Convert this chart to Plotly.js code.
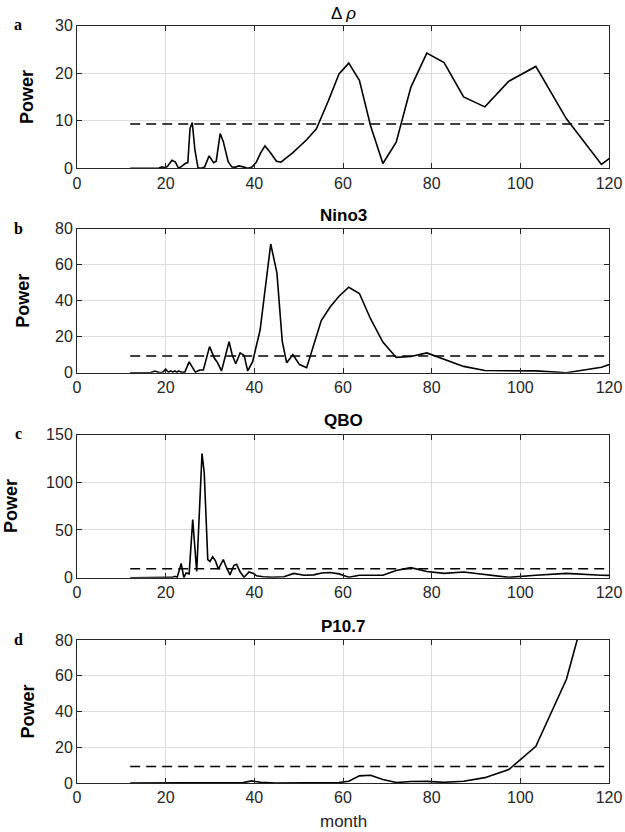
<!DOCTYPE html>
<html>
<head>
<meta charset="utf-8">
<script src="https://cdn.plot.ly/plotly-3.0.1.min.js"></script>
<style>
  html, body { margin: 0; padding: 0; background: #fff; }
  #chart { width: 625px; height: 832px; }
</style>
</head>
<body>
<div id="chart"></div>
<script>
// ---- data ----
const rhoMonth = [12, 16, 17.5, 18.5, 19.2, 19.8, 20.4, 21.4, 22.2, 22.9, 23.6, 24.4, 25.0, 25.5, 26.0, 26.6, 27.3, 28.0, 28.8, 29.8, 30.8, 31.4, 32.3, 33.0, 34.1, 34.9, 35.6, 36.5, 37.5, 38.5, 39.4, 40.4, 41.4, 42.4, 43.6, 45.0, 46.0, 48.7, 51.8, 54.0, 56.7, 59.1, 61.3, 63.7, 66.2, 69.0, 72.0, 75.3, 78.9, 82.8, 87.2, 92.0, 97.4, 103.5, 110.4, 118.3, 127.4];
const rhoPower = [0, 0, 0.1, 0.05, 0.3, 0.1, 0.4, 1.7, 1.3, 0, 0.4, 1.0, 1.2, 8.4, 9.6, 3.8, 0.1, 0, 0.3, 2.6, 1.2, 1.5, 7.3, 5.6, 1.4, 0.3, 0.2, 0.5, 0.3, 0, 0.2, 1.2, 3.2, 4.7, 3.3, 1.5, 1.3, 3.3, 6.0, 8.3, 14.2, 19.8, 22.1, 18.5, 9.0, 1.0, 5.5, 17.0, 24.2, 22.2, 15.0, 12.9, 18.3, 21.4, 10.4, 0.8, 7.2];

const ninoMonth = [12, 16.5, 17.6, 18.5, 19.3, 20.0, 20.6, 21.1, 21.6, 22.1, 22.5, 22.9, 23.5, 24.3, 25.3, 26.7, 27.7, 28.5, 29.9, 31.0, 31.6, 32.6, 34.3, 35.0, 35.8, 36.8, 37.7, 38.5, 39.6, 41.3, 43.7, 45.1, 46.3, 47.3, 48.7, 50.2, 51.8, 53.3, 55.1, 57.1, 59.1, 61.3, 63.7, 66.2, 69.0, 72.0, 75.3, 78.9, 82.8, 87.2, 92.0, 97.4, 103.5, 110.4, 118.3, 127.4];
const ninoPower = [0, 0, 0.9, 0.1, 0.2, 2.0, 0.3, 1.0, 0.3, 1.0, 0.2, 1.0, 0.3, 0.2, 6.0, 0.3, 1.5, 1.5, 14.5, 8.0, 6.0, 1.0, 17.2, 10.0, 5.0, 11.0, 9.6, 1.0, 6.0, 23.7, 71.5, 55.3, 17.4, 5.5, 10.0, 4.5, 2.8, 14.5, 29.0, 36.5, 42.5, 47.5, 44.0, 30.0, 17.0, 8.5, 9.0, 11.0, 7.5, 3.5, 1.2, 1.2, 1.0, 0, 3.0, 11.0];

const qboMonth = [12, 19.9, 21.5, 22.1, 22.6, 23.5, 24.1, 24.6, 25.3, 26.1, 27.0, 28.2, 28.7, 29.5, 30.0, 30.6, 31.2, 31.9, 33.0, 33.5, 34.5, 35.4, 36.0, 36.8, 37.7, 38.8, 39.8, 40.5, 42.0, 44.0, 46.7, 48.9, 51.2, 53.4, 55.2, 57.1, 59.1, 61.3, 63.7, 66.2, 69.0, 72.0, 75.3, 78.9, 82.8, 87.2, 92.0, 97.4, 103.5, 110.4, 118.3, 127.4];
const qboPower = [0, 0.5, 0.3, 1.5, 0.3, 15, 0, 5, 4, 61, 6.5, 130, 110, 19, 17, 22, 18, 9, 19, 13, 3, 13, 14, 6, 0.5, 6, 4.5, 2, 1, 0.5, 1, 4.5, 2.5, 3, 5, 5.5, 4, 0.5, 2.5, 2.5, 2.5, 7.5, 10.5, 6.5, 4.5, 6, 3.5, 0.3, 2.5, 4.5, 2.5, 2];

const f107Month = [12, 20, 28, 30, 32.3, 34.5, 37.5, 39.4, 41.4, 44.8, 50, 55, 59.1, 61.3, 63.7, 66.2, 69.0, 72.0, 75.3, 78.9, 82.8, 87.2, 92.0, 97.4, 103.5, 110.4, 118.3];
const f107Power = [0, 0.1, 0.2, 0.4, 0.5, 0.2, 0.2, 1.2, 0.4, 0, 0, 0.1, 0.3, 1.0, 4.0, 4.3, 2.0, 0.3, 0.8, 0.9, 0.4, 1.0, 3.0, 7.5, 20.5, 58, 130];

const sigLevel = [9.3, 9.3, 9.3, 9.3];
const sigMonth = [12, 120];

const panelTitles = ['Δ <i>ρ</i>', '<b>Nino3</b>', '<b>QBO</b>', '<b>P10.7</b>'];
const panelLetters = ['a', 'b', 'c', 'd'];
const yAxisTitle = 'Power';
const xAxisTitle = 'month';
const yMax = [30, 80, 150, 80];
const yStep = [10, 20, 50, 20];
const xTicks = [0, 20, 40, 60, 80, 100, 120];

// ---- layout geometry (pixels in the 625x832 frame) ----
const W = 625, H = 832;
const plotLeft = 77, plotRight = 609;
const panelTop = [25.5, 228.7, 434.5, 640];
const panelBot = [168.3, 372.7, 577.7, 783];
const titleY = [13, 216, 420, 626];
const letterY = [25, 229, 433, 639];
const powerX = [27, 23, 11, 27];

const months = [rhoMonth, ninoMonth, qboMonth, f107Month];
const powers = [rhoPower, ninoPower, qboPower, f107Power];

const ink = '#262626';
const traces = [];
const layout = {
  width: W, height: H,
  margin: {l: 0, r: 0, t: 0, b: 0},
  paper_bgcolor: '#ffffff', plot_bgcolor: '#ffffff',
  showlegend: false,
  font: {family: 'Liberation Sans, Arial, sans-serif', color: ink, size: 16},
  annotations: []
};

for (let i = 0; i < 4; i++) {
  const s = i === 0 ? '' : String(i + 1);
  traces.push({
    x: months[i], y: powers[i], xaxis: 'x' + s, yaxis: 'y' + s,
    type: 'scatter', mode: 'lines', line: {color: '#000', width: 1.6},
    hoverinfo: 'skip'
  });
  traces.push({
    x: sigMonth, y: [sigLevel[i], sigLevel[i]], xaxis: 'x' + s, yaxis: 'y' + s,
    type: 'scatter', mode: 'lines', line: {color: '#000', width: 1.5, dash: '10px,6px'},
    hoverinfo: 'skip'
  });
  const yd = [1 - panelBot[i] / H, 1 - panelTop[i] / H];
  layout['xaxis' + s] = {
    domain: [plotLeft / W, plotRight / W], anchor: 'y' + s,
    range: [0, 120], tickvals: xTicks, ticktext: xTicks.map(String),
    showgrid: true, gridcolor: '#dcdcdc', gridwidth: 1,
    showline: true, linecolor: ink, linewidth: 1, mirror: 'ticks',
    ticks: 'inside', ticklen: 5, tickcolor: ink,
    tickfont: {size: 16, color: ink}, zeroline: false, fixedrange: true,
    title: {text: ''}
  };
  const yt = [];
  for (let v = 0; v <= yMax[i]; v += yStep[i]) yt.push(v);
  layout['yaxis' + s] = {
    domain: yd, anchor: 'x' + s,
    range: [0, yMax[i]], tickvals: yt, ticktext: yt.map(String),
    showgrid: true, gridcolor: '#dcdcdc', gridwidth: 1,
    showline: true, linecolor: ink, linewidth: 1, mirror: 'ticks',
    ticks: 'inside', ticklen: 5, tickcolor: ink,
    tickfont: {size: 16, color: ink}, zeroline: false, fixedrange: true,
    title: {text: ''}
  };
  layout.annotations.push({
    xref: 'paper', yref: 'paper', x: (plotLeft + plotRight) / 2 / W, y: 1 - titleY[i] / H,
    xanchor: 'center', yanchor: 'middle', showarrow: false,
    text: panelTitles[i], font: {size: 17, color: '#000'}
  });
  layout.annotations.push({
    xref: 'paper', yref: 'paper', x: 18 / W, y: 1 - letterY[i] / H,
    xanchor: 'center', yanchor: 'middle', showarrow: false,
    text: '<b>' + panelLetters[i] + '</b>',
    font: {size: 16, color: '#000', family: 'Liberation Serif, Times New Roman, serif'}
  });
  layout.annotations.push({
    xref: 'paper', yref: 'paper', x: powerX[i] / W, y: 1 - (panelTop[i] + panelBot[i]) / 2 / H,
    xanchor: 'center', yanchor: 'middle', showarrow: false, textangle: -90,
    text: '<b>' + yAxisTitle + '</b>', font: {size: 18, color: '#000'}
  });
}
layout.annotations.push({
  xref: 'paper', yref: 'paper', x: (plotLeft + plotRight) / 2 / W, y: 1 - 821 / H,
  xanchor: 'center', yanchor: 'middle', showarrow: false,
  text: xAxisTitle, font: {size: 17, color: ink}
});

Plotly.newPlot('chart', traces, layout, {staticPlot: true, displayModeBar: false});
</script>
</body>
</html>
